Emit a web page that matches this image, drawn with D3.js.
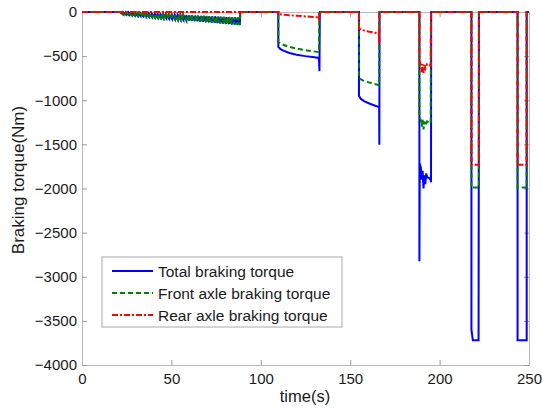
<!DOCTYPE html>
<html>
<head>
<meta charset="utf-8">
<script src="https://cdn.jsdelivr.net/npm/d3@7"></script>
<style>
  body { margin: 0; background: #fff; }
  text { font-family: "Liberation Sans", Arial, sans-serif; fill: #1a1a1a; }
</style>
</head>
<body>
<div id="chart"></div>
<script>
const width = 542;
const height = 410;

// [time (s), torque (Nm)] - first braking event, front axle only (rear = 0)
const firstBraking = [
    [21.5, 0], [21.5, -5], [23.1, -28], [23.1, -6], [24.7, -31], [24.7, -8], [26.3, -34], [26.3, -9],
    [27.9, -37], [27.9, -11], [29.5, -40], [29.5, -12], [31.1, -43], [31.1, -13], [32.7, -46], [32.7, -15],
    [34.3, -49], [34.3, -16], [35.9, -52], [35.9, -18], [37.5, -54], [37.5, -19], [39.1, -57], [39.1, -20],
    [40.7, -60], [40.7, -22], [42.3, -63], [42.3, -23], [43.9, -66], [43.9, -25], [45.5, -69], [45.5, -26],
    [47.1, -72], [47.1, -28], [48.7, -75], [48.7, -29], [50.3, -78], [50.3, -30], [51.9, -81], [51.9, -32],
    [53.5, -84], [53.5, -33], [55.1, -87], [55.1, -35], [56.7, -90], [56.7, -36], [58.3, -93], [58.3, -37],
    [59.9, -96], [59.9, -39], [61.5, -99], [61.5, -40], [63.1, -102], [63.1, -42], [64.7, -105], [64.7, -43],
    [66.3, -107], [66.3, -44], [67.9, -110], [67.9, -46], [69.5, -113], [69.5, -47], [71.1, -116], [71.1, -49],
    [72.7, -119], [72.7, -50], [74.3, -122], [74.3, -51], [75.9, -125], [75.9, -53], [77.5, -128], [77.5, -54],
    [79.1, -131], [79.1, -56], [80.7, -134], [80.7, -57], [82.3, -137], [82.3, -59], [83.9, -140], [83.9, -60],
    [85.5, -143], [85.5, -61], [87.1, -146], [87.1, -63], [88.3, -148], [88.5, 0]
];

const totalTorque = [
    [0, 0],
    ...firstBraking,
    [109.8, 0], [109.8, -395], [111, -420], [113, -440], [116, -465], [120, -485], [125, -500], [130, -512],
    [132.4, -520], [132.6, -560], [132.8, -670], [133, 0],
    [154.9, 0], [154.9, -950], [156, -985], [158, -1012], [161, -1040], [164, -1062], [166.2, -1078],
    [166.3, -1505], [166.4, 0],
    [188.7, 0], [188.7, -2825], [188.9, -1720], [189.5, -1760], [190, -1900], [190.5, -1800], [191, -2000],
    [191.5, -1850], [192, -1950], [192.5, -1830], [193, -1870], [194, -1880], [195, -1900], [195.2, -1930],
    [195.3, 0],
    [217.8, 0], [217.8, -3600], [218.6, -3720], [221.8, -3720], [222, 0],
    [243.6, 0], [243.6, -3720], [248.7, -3720], [248.7, 0],
    [250, 0]
];

const frontTorque = [
    [0, 0],
    ...firstBraking,
    [109.8, 0], [109.8, -340], [111, -360], [115, -390], [120, -415], [125, -432], [132.5, -455], [132.7, 0],
    [154.9, 0], [154.9, -750], [157, -775], [160, -795], [163, -812], [166.2, -830], [166.3, 0],
    [188.7, 0], [188.7, -1190], [189.5, -1230], [190, -1300], [190.5, -1220], [191, -1330], [191.5, -1240],
    [192, -1290], [193, -1240], [194, -1250], [195, -1260], [195.2, 0],
    [217.8, 0], [217.8, -1990], [222, -1990], [222, 0],
    [243.6, 0], [243.6, -1990], [248.7, -1990], [248.7, 0],
    [250, 0]
];

const rearTorque = [
    [0, 0],
    [109.8, 0], [109.8, -25], [115, -35], [120, -42], [125, -50], [132, -60], [132.5, -80], [132.7, 0],
    [154.9, 0], [154.9, -190], [157, -205], [160, -220], [163, -232], [166, -242], [166.2, -370], [166.3, 0],
    [188.7, 0], [188.7, -550], [189.5, -600], [190, -680], [190.5, -590], [191, -690], [191.5, -600],
    [192, -640], [193, -590], [194, -600], [195, -610], [195.2, 0],
    [217.8, 0], [217.8, -1730], [222, -1730], [222, 0],
    [243.6, 0], [243.6, -1730], [248.7, -1730], [248.7, 0],
    [250, 0]
];

const xTicks = [0, 50, 100, 150, 200, 250];
const yTicks = [0, -500, -1000, -1500, -2000, -2500, -3000, -3500, -4000];
const seriesNames = ['Total braking torque', 'Front axle braking torque', 'Rear axle braking torque'];

const margin = { left: 82, right: 13, top: 12, bottom: 45 };
const plotW = width - margin.left - margin.right;
const plotH = height - margin.top - margin.bottom;

const svg = d3.select('#chart')
    .append('svg')
    .attr('width', width)
    .attr('height', height);

const x = d3.scaleLinear().domain([0, 250]).range([margin.left, margin.left + plotW]);
const y = d3.scaleLinear().domain([-4000, 0]).range([margin.top + plotH, margin.top]);

const styles = [
    { color: '#0000ff', dash: null },
    { color: '#008000', dash: '5,3' },
    { color: '#ff0000', dash: '6,2,2,2' }
];

// box and ticks
const axisColor = '#b8b8b8';
function styleAxis(g, showLabels) {
    g.select('.domain').attr('stroke', axisColor);
    g.selectAll('.tick line').attr('stroke', '#999');
    g.selectAll('.tick text')
        .style('font-size', '15px')
        .style('fill', '#1a1a1a')
        .style('display', showLabels ? null : 'none');
}

const fmt = d3.format('d');

svg.append('g')
    .attr('transform', `translate(0,${margin.top + plotH})`)
    .call(d3.axisBottom(x).tickValues(xTicks).tickFormat(fmt).tickSize(-5).tickPadding(8).tickSizeOuter(0))
    .call(g => styleAxis(g, true));

svg.append('g')
    .attr('transform', `translate(0,${margin.top})`)
    .call(d3.axisTop(x).tickValues(xTicks).tickSize(-5).tickSizeOuter(0))
    .call(g => styleAxis(g, false));

svg.append('g')
    .attr('transform', `translate(${margin.left},0)`)
    .call(d3.axisLeft(y).tickValues(yTicks).tickFormat(fmt).tickSize(-5).tickPadding(5).tickSizeOuter(0))
    .call(g => styleAxis(g, true));

svg.append('g')
    .attr('transform', `translate(${margin.left + plotW},0)`)
    .call(d3.axisRight(y).tickValues(yTicks).tickSize(-5).tickSizeOuter(0))
    .call(g => styleAxis(g, false));

// lines
const line = d3.line().x(d => x(d[0])).y(d => y(d[1]));
[totalTorque, frontTorque, rearTorque].forEach((data, i) => {
    svg.append('path')
        .datum(data)
        .attr('d', line)
        .attr('fill', 'none')
        .attr('stroke', styles[i].color)
        .attr('stroke-width', 2)
        .attr('stroke-dasharray', styles[i].dash);
});

// labels
svg.append('text')
    .attr('x', 305)
    .attr('y', 402)
    .attr('text-anchor', 'middle')
    .style('font-size', '16.5px')
    .text('time(s)');

svg.append('text')
    .attr('transform', 'translate(24,180) rotate(-90)')
    .attr('text-anchor', 'middle')
    .style('font-size', '17px')
    .text('Braking torque(Nm)');

// legend
const legend = svg.append('g').attr('transform', 'translate(102,257)');
legend.append('rect')
    .attr('width', 240)
    .attr('height', 70)
    .attr('fill', '#fff')
    .attr('stroke', '#aaa');

seriesNames.forEach((name, i) => {
    const row = legend.append('g').attr('transform', `translate(0,${14 + i * 22})`);
    row.append('line')
        .attr('x1', 10).attr('x2', 51)
        .attr('stroke', styles[i].color)
        .attr('stroke-width', 2)
        .attr('stroke-dasharray', styles[i].dash);
    row.append('text')
        .attr('x', 56)
        .attr('dy', '0.36em')
        .style('font-size', '15.5px')
        .text(name);
});
</script>
</body>
</html>
